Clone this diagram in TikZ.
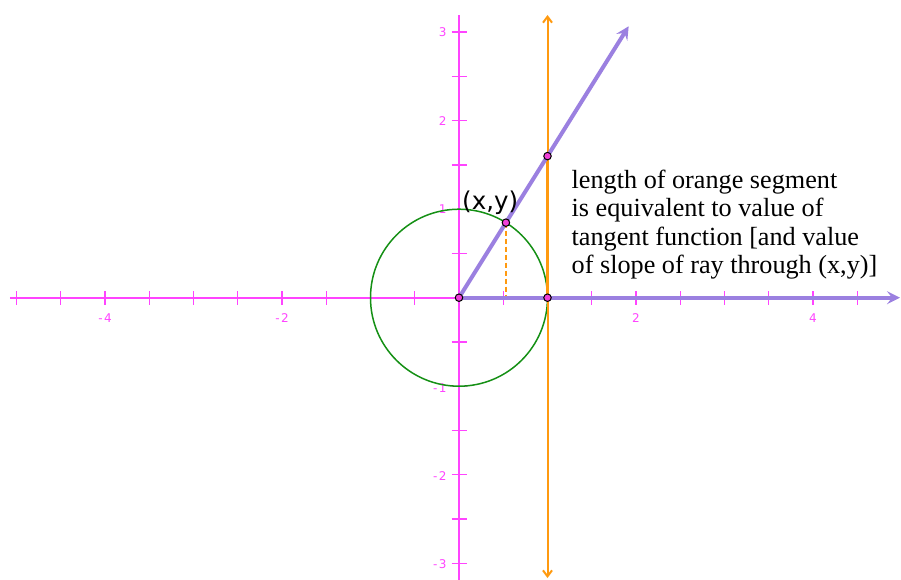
\documentclass[tikz,border=0pt]{standalone}
\usepackage{fontspec}
\setmainfont{Liberation Serif}
\newfontfamily\dv{DejaVu Sans}
\usetikzlibrary{arrows.meta}
\definecolor{axpink}{HTML}{FF44FF}
\definecolor{raypurple}{HTML}{9B80E0}
\definecolor{orng}{HTML}{FF9A10}
\definecolor{circgreen}{HTML}{159015}
\definecolor{ptfill}{HTML}{F040D8}
\tikzset{
  axisline/.style={draw=axpink, line width=1.7pt},
  tickmark/.style={draw=axpink, line width=1.4pt},
  ticklabel/.style={text=axpink, font=\dv\fontsize{12}{14}\selectfont, inner sep=0pt},
  rayline/.style={draw=raypurple, line width=4pt, -{Stealth[length=13pt,width=13pt,inset=5pt]}},
  orangeline/.style={draw=orng, line width=2pt, {Straight Barb[length=6pt,width=9pt]}-{Straight Barb[length=6pt,width=9pt]}},
  pt/.style={circle, draw=black, fill=ptfill, line width=1pt, inner sep=0pt, minimum size=7.5pt},
}
\begin{document}
\begin{tikzpicture}[x=88.5pt, y=88.5pt]
\useasboundingbox (-459pt,-281.3pt) rectangle (442pt,297.7pt);
% axes
\coordinate (xl) at (-449pt,0);
\coordinate (xr) at (430pt,0);
\coordinate (yb) at (0,-282pt);
\coordinate (yt) at (0,282.7pt);
\draw[axisline] (xl) -- (xr);
\draw[axisline] (yb) -- (yt);
% ticks
\foreach \k in {-10,...,-1,1,2,...,9}
  \draw[tickmark] (\k*0.5,-7pt) -- (\k*0.5,7pt);
\foreach \k in {-6,...,-1,1,2,...,6}
  \draw[tickmark] (-7.5pt,\k*0.5) -- (7.5pt,\k*0.5);
% tick labels
\foreach \v/\t in {-4/-\kern1.5pt4, -2/-\kern1.5pt2, 2/2, 4/4}
  \node[ticklabel] (xlab\v) at (\v,-20pt) {\t};
\foreach \v/\t/\d in {3/3/0, 2/2/0, 1/1/0, -1/-\kern1.5pt1/-2, -2/-\kern1.5pt2/-1, -3/-\kern1.5pt3/-1}
  \node[ticklabel, anchor=east] (ylab\v) at ([yshift=\d pt]-12.3pt,\v) {\t};
% unit circle
\node[draw=circgreen, line width=1.5pt, circle, minimum size=177pt, inner sep=0pt] (circ) at (0,0) {};
% orange tangent line
\coordinate (ot) at (1,282.7pt);
\coordinate (ob) at (1,-280.3pt);
\draw[orangeline] (ob) -- (ot);
% points
\coordinate (O) at (0,0);
\coordinate (A) at (1,0);
\coordinate (T) at (1,1.6);
\coordinate (P) at (57.99:1);
\coordinate (Px) at (P |- O);
\draw[draw=orng, line width=1.4pt, dash pattern=on 5pt off 3pt] (P) -- (Px);
\draw[draw=orng, line width=3.5pt] (A) -- (T);
% purple rays
\coordinate (xend) at (441pt,0);
\coordinate (rend) at (57.99:3.617);
\draw[rayline] (O) -- (xend);
\draw[rayline] (O) -- (rend);
\node[pt] (Opt) at (O) {};
\node[pt] (Apt) at (A) {};
\node[pt] (Tpt) at (T) {};
\node[pt] (Ppt) at (P) {};
% texts
\node[anchor=base west, inner sep=0pt, font=\dv\fontsize{24.5}{28}\selectfont] (xy) at (3pt,88.7pt) {(x,y)};
\node[anchor=base west, inner sep=0pt, align=left, font=\fontsize{26.2}{28.3}\selectfont] (note) at (112.5pt,24.4pt)
  {length of orange segment\\is equivalent to value of\\tangent function [and value\\of slope of ray through (x,y)]};
\end{tikzpicture}
\end{document}
